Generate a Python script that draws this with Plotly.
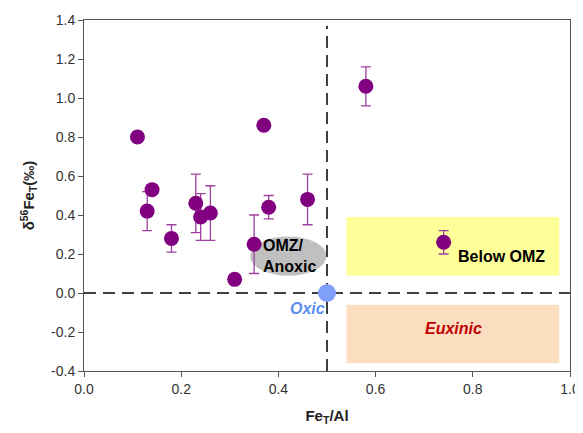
import plotly.graph_objects as go

# Data
fe_al = [0.11, 0.14, 0.13, 0.18, 0.23, 0.24, 0.26, 0.37, 0.38, 0.46, 0.35, 0.31, 0.58, 0.74]
d56fe = [0.80, 0.53, 0.42, 0.28, 0.46, 0.39, 0.41, 0.86, 0.44, 0.48, 0.25, 0.07, 1.06, 0.26]
err = [0, 0, 0.10, 0.07, 0.15, 0.12, 0.14, 0, 0.06, 0.13, 0.15, 0, 0.10, 0.06]

oxic_x = [0.5]
oxic_y = [0.0]

x_ticks = [0.0, 0.2, 0.4, 0.6, 0.8, 1.0]
y_ticks = [-0.4, -0.2, 0.0, 0.2, 0.4, 0.6, 0.8, 1.0, 1.2, 1.4]

font = "Liberation Sans, Arial, sans-serif"

fig = go.Figure()

fig.add_trace(go.Scatter(
    x=fe_al, y=d56fe, mode="markers",
    marker=dict(size=15, color="#800080"),
    error_y=dict(type="data", array=err, visible=True, color="#a040a0", thickness=1.3, width=5),
    showlegend=False, cliponaxis=False,
))

fig.add_trace(go.Scatter(
    x=oxic_x, y=oxic_y, mode="markers",
    marker=dict(size=18, color="#7f9ffa"),
    showlegend=False, cliponaxis=False,
))

shapes = [
    dict(type="rect", xref="x", yref="y", x0=0.54, x1=0.978, y0=0.09, y1=0.39,
         fillcolor="#ffff99", line=dict(width=0), layer="below"),
    dict(type="rect", xref="x", yref="y", x0=0.54, x1=0.978, y0=-0.36, y1=-0.06,
         fillcolor="#fbddc0", line=dict(width=0), layer="below"),
    dict(type="circle", xref="x", yref="y", x0=0.342, x1=0.499, y0=0.088, y1=0.29,
         fillcolor="#c0c0c0", line=dict(width=0), layer="below"),
    dict(type="line", xref="x", yref="y", x0=0.5, x1=0.5, y0=-0.4, y1=1.37,
         line=dict(color="black", width=1.5, dash="12px,7px"), layer="below"),
    dict(type="line", xref="x", yref="y", x0=0.0, x1=1.0, y0=0.0, y1=0.0,
         line=dict(color="black", width=1.5, dash="12px,7px"), layer="below"),
]

annotations = [
    dict(x=0.423, y=0.19, xref="x", yref="y", text="<b>OMZ/<br>Anoxic</b>", showarrow=False,
         font=dict(family=font, size=16, color="black"), align="left"),
    dict(x=0.86, y=0.185, xref="x", yref="y", text="<b>Below OMZ</b>", showarrow=False,
         font=dict(family=font, size=16, color="black")),
    dict(x=0.761, y=-0.18, xref="x", yref="y", text="<b><i>Euxinic</i></b>", showarrow=False,
         font=dict(family=font, size=16, color="#c00000")),
    dict(x=0.459, y=-0.082, xref="x", yref="y", text="<b><i>Oxic</i></b>", showarrow=False,
         font=dict(family=font, size=16, color="#5b8ff0")),
]

# The page body adds an 8px offset; compensate in size/margins
fig.update_layout(
    width=575, height=425,
    margin=dict(l=76, r=13, t=12, b=62, autoexpand=False),
    paper_bgcolor="white", plot_bgcolor="white",
    shapes=shapes, annotations=annotations,
    font=dict(family=font, size=14, color="#333"),
    xaxis=dict(range=[0, 1.0], tickvals=x_ticks, ticktext=[f"{v:.1f}" for v in x_ticks],
               showgrid=False, zeroline=False, showline=True, linecolor="#555", linewidth=1,
               mirror=True, ticks="outside", ticklen=5, tickcolor="#555",
               title=dict(text="<b>Fe<sub>T</sub>/Al</b>", font=dict(size=15, color="#222"), standoff=14)),
    yaxis=dict(range=[-0.4, 1.4], tickvals=y_ticks, ticktext=[f"{v:.1f}" for v in y_ticks],
               showgrid=False, zeroline=False, showline=True, linecolor="#555", linewidth=1,
               mirror=True, ticks="outside", ticklen=5, tickcolor="#555",
               title=dict(text="<b>δ<sup>56</sup>Fe<sub>T</sub>(‰)</b>", font=dict(size=15, color="#222"), standoff=12)),
)

fig.write_html("out.html")
